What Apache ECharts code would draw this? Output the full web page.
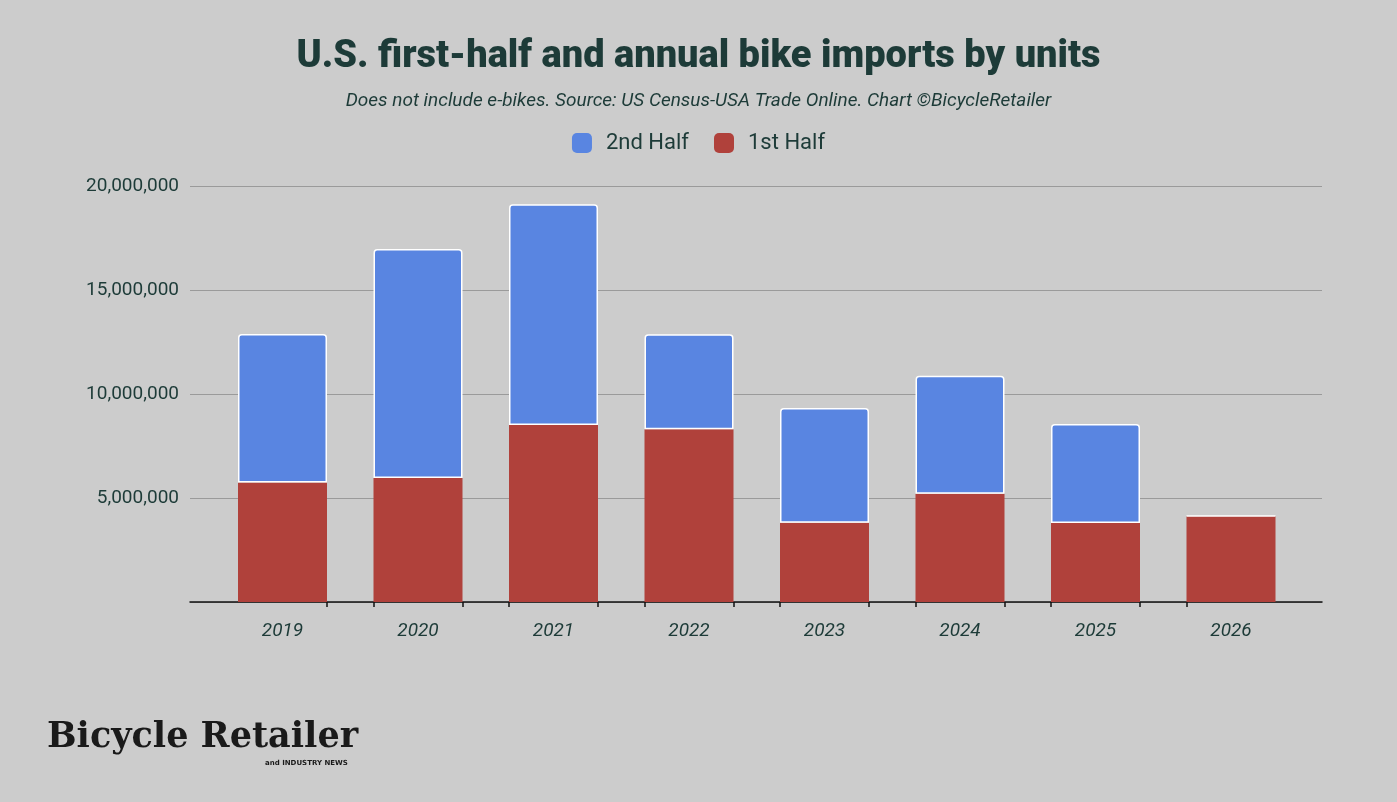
<!DOCTYPE html>
<html>
<head>
<meta charset="utf-8">
<style>
html,body{margin:0;padding:0;background:#cccccc;}
#chart{width:1397px;height:802px;}
</style>
<script src="https://cdn.jsdelivr.net/npm/echarts@6/dist/echarts.min.js"></script>
</head>
<body>
<div id="chart"></div>
<script>
const categories = ['2019','2020','2021','2022','2023','2024','2025','2026'];
const firstHalf  = [5740000, 5960000, 8510000, 8300000, 3810000, 5210000, 3800000, 4130000];
const secondHalf = [7140000, 11010000, 10610000, 4570000, 5520000, 5670000, 4760000, 0];
const yTicks = [0, 5000000, 10000000, 15000000, 20000000];

const textColor = '#1d3b38';
const barHalf = 0.328;

const tickVals = [];
categories.forEach((c, i) => {
  if (i > 0) tickVals.push(i - barHalf);
  if (i < categories.length - 1) tickVals.push(i + barHalf);
});

const chart = echarts.init(document.getElementById('chart'), null, {renderer: 'canvas'});
chart.setOption({
  backgroundColor: '#cccccc',
  animation: false,
  title: [
    {
      text: 'U.S. first-half and annual bike imports by units',
      left: 'center', top: 33,
      textStyle: {fontFamily: 'Roboto', fontWeight: 900, fontSize: 38, color: textColor}
    },
    {
      text: 'Does not include e-bikes. Source: US Census-USA Trade Online. Chart ©BicycleRetailer',
      left: 'center', top: 87,
      textStyle: {fontFamily: 'Roboto', fontStyle: 'italic', fontWeight: 'normal', fontSize: 19, color: textColor}
    }
  ],
  legend: {
    data: ['2nd Half', '1st Half'],
    top: 127, left: 'center',
    icon: 'roundRect',
    itemWidth: 20, itemHeight: 20, itemGap: 25,
    itemStyle: {borderWidth: 0},
    textStyle: {fontFamily: 'Roboto', fontSize: 22, color: textColor, padding: [0, 0, 0, 9]}
  },
  grid: [
    {left: 190, right: 75, top: 186, bottom: 200, containLabel: false},
    {left: 214.75, right: 98.25, top: 186, bottom: 200, containLabel: false}
  ],
  xAxis: [
    {
      type: 'value', gridIndex: 0,
      min: -0.6827, max: 7.6716,
      splitLine: {show: false},
      axisLine: {show: true, onZero: false, lineStyle: {color: '#111', width: 1.5}},
      axisTick: {show: true, length: 5, customValues: tickVals, lineStyle: {color: '#111', width: 1.5}},
      axisLabel: {show: false}
    },
    {
      type: 'category', gridIndex: 1,
      data: categories,
      axisLine: {show: false},
      axisTick: {show: false},
      axisLabel: {margin: 20, fontFamily: 'Roboto', fontStyle: 'italic', fontSize: 19, color: textColor}
    }
  ],
  yAxis: [
    {
      type: 'value', gridIndex: 0,
      min: 0, max: 20000000, interval: 5000000,
      axisLine: {show: false},
      axisTick: {show: false},
      splitLine: {lineStyle: {color: '#9a9a9a', width: 1.2}},
      axisLabel: {
        margin: 11,
        fontFamily: 'Roboto', fontSize: 19, color: textColor,
        formatter: v => v === 0 ? '' : v.toLocaleString('en-US')
      }
    },
    {
      type: 'value', gridIndex: 1,
      min: 0, max: 20000000, interval: 5000000,
      show: false,
      splitLine: {show: false}
    }
  ],
  series: [
    {
      name: '1st Half', type: 'bar', stack: 'total', barWidth: 89,
      xAxisIndex: 1, yAxisIndex: 1,
      data: firstHalf,
      itemStyle: {color: '#b0413b'}
    },
    {
      name: '2nd Half', type: 'bar', stack: 'total', barWidth: 89,
      xAxisIndex: 1, yAxisIndex: 1,
      data: secondHalf,
      itemStyle: {color: '#5985e1', borderColor: '#ffffff', borderWidth: 1.5, borderRadius: [3, 3, 0, 0]}
    }
  ],
  graphic: [
    {
      type: 'text', left: 47, top: 720,
      style: {text: 'Bicycle Retailer', font: 'bold 35px "DejaVu Serif"', fill: '#1a1a1a'}
    },
    {
      type: 'text', left: 265, top: 760,
      style: {text: 'and INDUSTRY NEWS', font: 'bold 7px "DejaVu Sans"', fill: '#1a1a1a'}
    }
  ]
});
</script>
</body>
</html>
